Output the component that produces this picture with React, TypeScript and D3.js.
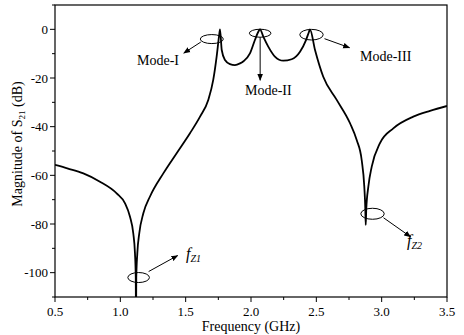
import React from "react";
import * as d3 from "d3";

const freq = [
  0.5, 0.6, 0.717, 0.844, 0.972, 1.036, 1.074, 1.099, 1.112, 1.118, 1.12, 1.122, 1.13, 1.145, 1.176, 1.227,
  1.329, 1.431, 1.533, 1.61, 1.673, 1.711, 1.737, 1.755, 1.763, 1.776, 1.801, 1.839, 1.877, 1.916,
  1.945, 1.992, 2.03, 2.056, 2.069, 2.094, 2.132, 2.183, 2.247, 2.311, 2.375, 2.421, 2.444, 2.451,
  2.49, 2.553, 2.656, 2.758, 2.809, 2.847, 2.867, 2.875, 2.878, 2.882, 2.898, 2.924, 2.987, 3.089,
  3.242, 3.37, 3.5,
];
const s21 = [
  -55.7, -57.2, -59.2, -62.6, -67.4, -71.5, -77, -83.8, -92, -102, -125, -102, -92, -83.8, -75.6, -68.7,
  -59.2, -50.9, -42.7, -35.9, -29, -20.8, -11.2, -3, 0, -8.5, -12.6, -14.3, -14.7, -14,
  -13, -9.9, -4.4, -1, 0, -3, -7.1, -11.2, -12.9, -12.3, -9.2, -4.4, -1, 0,
  -8.5, -19.5, -29, -38.6, -45.5, -53.7, -64.6, -74, -80.4, -74, -64.6, -56.4, -46.8, -40.7,
  -35.9, -33.5, -31.5,
];

const xTicks = [0.5, 1.0, 1.5, 2.0, 2.5, 3.0, 3.5];
const yTicks = [0, -20, -40, -60, -80, -100];
const xMinor = [0.75, 1.25, 1.75, 2.25, 2.75, 3.25];
const yMinor = [10, -10, -30, -50, -70, -90, -110];

const W = 464, H = 335;
const L = 55, R = 447, T = 5, B = 297;
const font = "'Liberation Serif', 'Times New Roman', serif";

export default function App() {
  const x = d3.scaleLinear().domain([0.5, 3.5]).range([L, R]);
  const y = d3.scaleLinear().domain([-110, 10]).range([B, T]);
  const pts = freq.map((f, i) => [f, s21[i]] as [number, number]);
  const line = d3
    .line<[number, number]>()
    .x((d) => x(d[0]))
    .y((d) => y(d[1]))
    .curve(d3.curveMonotoneX);

  const ann = (f: number, v: number) => [x(f), y(v)];

  const [e1x, e1y] = ann(1.7, -4);
  const [e2x, e2y] = ann(2.07, -1.6);
  const [e3x, e3y] = ann(2.463, -2.2);
  const [ez1x, ez1y] = ann(1.14, -102);
  const [ez2x, ez2y] = ann(2.93, -75.8);

  return (
    <svg
      width={W}
      height={H}
      style={{ position: "absolute", left: 0, top: 0, background: "#fff" }}
      fontFamily={font}
    >
      <defs>
        <clipPath id="plotclip">
          <rect x={L} y={T} width={R - L} height={B - T} />
        </clipPath>
        <marker id="arr" viewBox="0 0 10 10" refX="9" refY="5" markerWidth="7" markerHeight="7" orient="auto" markerUnits="userSpaceOnUse">
          <path d="M0,1 L10,5 L0,9 Z" fill="#000" />
        </marker>
      </defs>
      <rect x={0} y={0} width={W} height={H} fill="#fff" />

      <path d={line(pts) || ""} fill="none" stroke="#000" strokeWidth={1.8} clipPath="url(#plotclip)" />

      <rect x={L} y={T} width={R - L} height={B - T} fill="none" stroke="#000" strokeWidth={1.2} />

      {yTicks.map((t) => (
        <g key={"y" + t}>
          <line x1={L - 5} x2={L} y1={y(t)} y2={y(t)} stroke="#000" strokeWidth={1} />
          <text x={L - 7} y={y(t) + 4.5} fontSize={13} textAnchor="end">
            {t}
          </text>
        </g>
      ))}
      {yMinor.map((t) => (
        <line key={"ym" + t} x1={L - 3} x2={L} y1={y(t)} y2={y(t)} stroke="#000" strokeWidth={1} />
      ))}

      {xTicks.map((t) => (
        <g key={"x" + t}>
          <line x1={x(t)} x2={x(t)} y1={B} y2={B + 5} stroke="#000" strokeWidth={1} />
          <text x={x(t)} y={B + 19} fontSize={13} textAnchor="middle">
            {t.toFixed(1)}
          </text>
        </g>
      ))}
      {xMinor.map((t) => (
        <line key={"xm" + t} x1={x(t)} x2={x(t)} y1={B} y2={B + 3} stroke="#000" strokeWidth={1} />
      ))}

      <text x={(L + R) / 2} y={331} fontSize={14} textAnchor="middle">
        Frequency (GHz)
      </text>
      <text transform={`translate(22,${144}) rotate(-90)`} fontSize={14} textAnchor="middle">
        Magnitude of S
        <tspan fontSize={9} dy={3}>21</tspan>
        <tspan dy={-3}> (dB)</tspan>
      </text>

      <ellipse cx={e1x} cy={e1y} rx={11.5} ry={4.5} fill="none" stroke="#000" strokeWidth={1} />
      <line x1={e1x - 11} x2={e1x - 28} y1={e1y + 3} y2={e1y + 14} stroke="#000" strokeWidth={1} markerEnd="url(#arr)" />
      <text x={137} y={65} fontSize={14}>Mode-I</text>

      <ellipse cx={e2x} cy={e2y} rx={10.8} ry={4} fill="none" stroke="#000" strokeWidth={1} />
      <line x1={e2x} x2={e2x} y1={e2y + 4} y2={e2y + 47} stroke="#000" strokeWidth={1} markerEnd="url(#arr)" />
      <text x={245} y={95} fontSize={14}>Mode-II</text>

      <ellipse cx={e3x} cy={e3y} rx={11.7} ry={5.3} fill="none" stroke="#000" strokeWidth={1} />
      <line x1={e3x + 13} x2={e3x + 38} y1={e3y + 4} y2={e3y + 13} stroke="#000" strokeWidth={1} markerEnd="url(#arr)" />
      <text x={360} y={61} fontSize={14}>Mode-III</text>

      <ellipse cx={ez1x} cy={ez1y} rx={10.8} ry={5} fill="none" stroke="#000" strokeWidth={1} />
      <line x1={ez1x + 10} x2={ez1x + 39} y1={ez1y - 6} y2={ez1y - 22} stroke="#000" strokeWidth={1} markerEnd="url(#arr)" />
      <text x={186} y={259} fontSize={16} fontStyle="italic">
        f<tspan fontSize={10} dy={3}>Z1</tspan>
      </text>

      <ellipse cx={ez2x} cy={ez2y} rx={11.7} ry={5.5} fill="none" stroke="#000" strokeWidth={1} />
      <line x1={ez2x + 11} x2={ez2x + 38} y1={ez2y + 4} y2={ez2y + 23} stroke="#000" strokeWidth={1} markerEnd="url(#arr)" />
      <text x={407} y={246} fontSize={16} fontStyle="italic">
        f<tspan fontSize={10} dy={3}>Z2</tspan>
      </text>
    </svg>
  );
}
